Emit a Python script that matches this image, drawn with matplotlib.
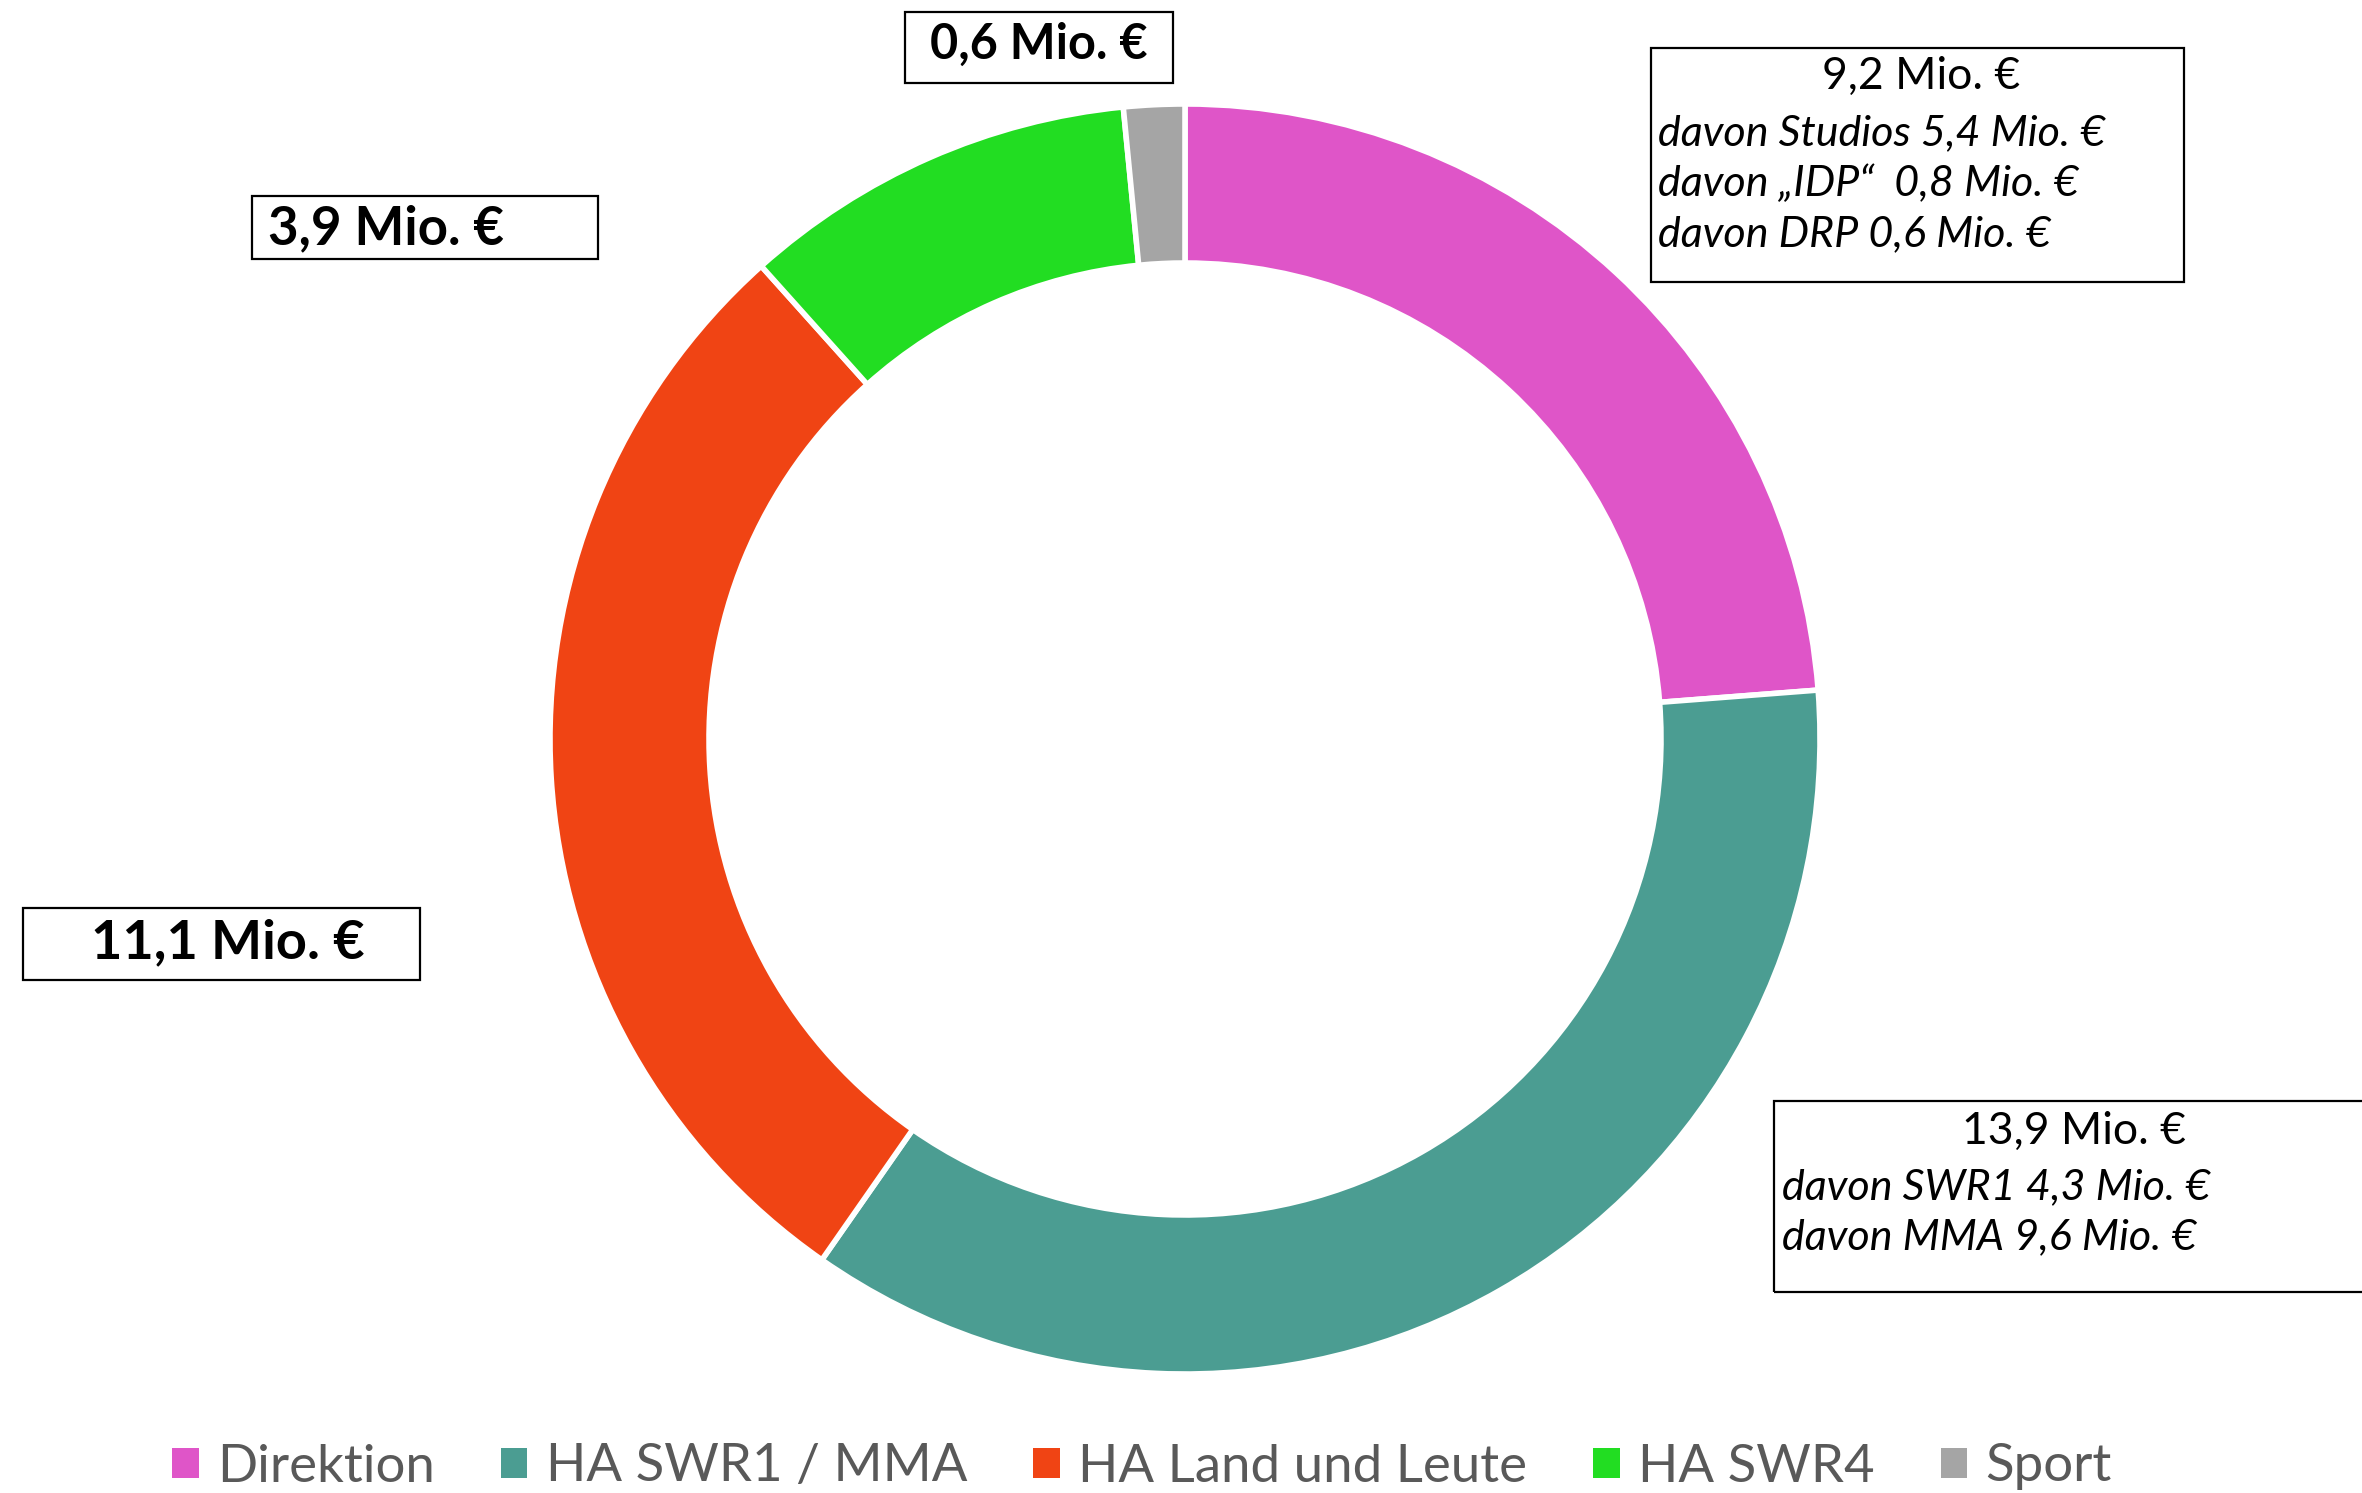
import matplotlib
matplotlib.use("Agg")
import matplotlib.pyplot as plt
from matplotlib.patches import Rectangle

# Budget split (Mio. EUR)
categories = ["Direktion", "HA SWR1 / MMA", "HA Land und Leute", "HA SWR4", "Sport"]
values = [9.2, 13.9, 11.1, 3.9, 0.6]
colors = ["#DF55C8", "#4B9D92", "#F04414", "#22DD22", "#A5A5A5"]

details_direktion = ["davon Studios 5,4 Mio. €", "davon \u201eIDP\u201c  0,8 Mio. €", "davon DRP 0,6 Mio. €"]
details_swr1 = ["davon SWR1 4,3 Mio. €", "davon MMA 9,6 Mio. €"]

def fmt(v):
    return f"{v:.1f}".replace(".", ",") + " Mio. €"

plt.rcParams['font.family'] = ['Lato', 'DejaVu Sans']

W, H = 2362, 1493
fig = plt.figure(figsize=(W / 100, H / 100), dpi=100)
ax = fig.add_axes([0, 0, 1, 1])

# helper: image coords (from top) -> data coords
def Y(y):
    return H - y

wedges, _ = ax.pie(values, colors=colors, startangle=90, counterclock=False,
                   center=(1185, Y(739)), radius=635, frame=True,
                   wedgeprops=dict(width=159, edgecolor='white', linewidth=4))
ax.set_xlim(0, W)
ax.set_ylim(0, H)
ax.axis('off')

def box(x0, y0, x1, y1):
    ax.add_patch(Rectangle((x0, Y(y1)), x1 - x0, y1 - y0, fill=False,
                           edgecolor='black', linewidth=1.6, clip_on=False))

# simple bold labels
box(905, 12, 1173, 83)
ax.text(1039, Y(44), fmt(values[4]), ha='center', va='center', fontsize=35, fontweight='bold')
box(252, 196, 598, 259)
ax.text(268, Y(229), fmt(values[3]), ha='left', va='center', fontsize=38, fontweight='bold')
box(23, 908, 420, 980)
ax.text(228, Y(943), fmt(values[2]), ha='center', va='center', fontsize=39, fontweight='bold')

# Direktion box with details
box(1651, 48, 2184, 282)
ax.text(1921, Y(76), fmt(values[0]), ha='center', va='center', fontsize=32)
for i, s in enumerate(details_direktion):
    ax.text(1658, Y(133 + 50.5 * i), s, ha='left', va='center', fontsize=31, style='italic')

# SWR1 / MMA box with details
box(1774, 1101, 2375, 1292)
ax.text(2074, Y(1131), fmt(values[1]), ha='center', va='center', fontsize=32)
for i, s in enumerate(details_swr1):
    ax.text(1782, Y(1187 + 50 * i), s, ha='left', va='center', fontsize=31, style='italic')

leg = ax.legend(wedges, categories, loc='center', bbox_to_anchor=(1142 / W, 26 / H),
                ncol=5, frameon=False, fontsize=38, handlelength=0.5, handleheight=0.5,
                handletextpad=0.35, columnspacing=1.25, borderaxespad=0)
for t in leg.get_texts():
    t.set_color('#595959')
for h in leg.legend_handles:
    h.set_linewidth(0)

fig.savefig('out.png', dpi=100)
